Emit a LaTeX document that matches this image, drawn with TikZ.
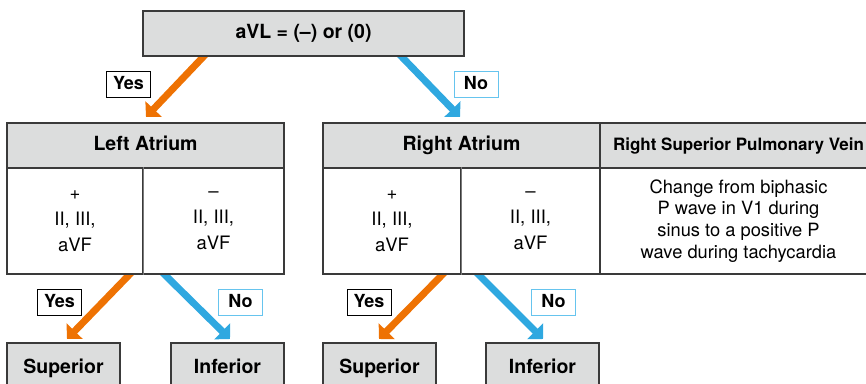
\documentclass[tikz,border=0pt]{standalone}
\usepackage{fontspec}
\setmainfont{TeX Gyre Heros}
\usetikzlibrary{arrows.meta}
\definecolor{hdrgray}{HTML}{DCDDDD}
\definecolor{edge}{HTML}{3A3A3A}
\definecolor{divgray}{HTML}{7A7A7A}
\definecolor{yesorange}{HTML}{EE7203}
\definecolor{noblue}{HTML}{2FA8E0}
\definecolor{nolabel}{HTML}{66C4EE}
\tikzset{
  box/.style={draw=edge, line width=1.1pt, inner sep=0pt, align=center},
  hdr/.style={box, fill=hdrgray, minimum height=45pt, text height=14pt, text depth=4pt, font=\bfseries\fontsize{19.5}{22}\selectfont},
  cell/.style={box, fill=white, minimum height=106pt, font=\fontsize{18.5}{26}\selectfont},
  outcome/.style={box, fill=hdrgray, minimum width=113pt, minimum height=50pt, text height=14pt, text depth=4pt, font=\bfseries\fontsize{19.5}{22}\selectfont},
  divider/.style={draw=divgray, line width=1.4pt},
  lbl/.style={fill=white, line width=1pt, minimum width=44pt, minimum height=26pt, inner sep=0pt, text height=13pt, text depth=3pt, font=\bfseries\fontsize{18}{20}\selectfont},
  yeslbl/.style={lbl, draw=black},
  nolbl/.style={lbl, draw=nolabel},
  flow/.style={line width=7pt, line join=miter, shorten <=-8pt, -{Triangle[length=11pt,width=22pt]}},
  yesarrow/.style={flow, draw=yesorange, fill=yesorange},
  noarrow/.style={flow, draw=noblue, fill=noblue},
}
\begin{document}
\begin{tikzpicture}[x=1pt,y=-1pt]
\useasboundingbox (0,0) rectangle (866,383);
\clip (0,0) rectangle (866,383);

% arrow end points
\coordinate (o1s) at (204,56);  \coordinate (o1e) at (146,117);
\coordinate (b1s) at (401,56);  \coordinate (b1e) at (460,117);
\coordinate (o2s) at (130,274); \coordinate (o2e) at (67,339);
\coordinate (b2s) at (164,274); \coordinate (b2e) at (230,339);
\coordinate (o3s) at (443,274); \coordinate (o3e) at (379,339);
\coordinate (b3s) at (478,274); \coordinate (b3e) at (543,339);

% arrows first, so the boxes cover their tails
\draw[yesarrow] (o1s) -- (o1e);
\draw[noarrow]  (b1s) -- (b1e);
\draw[yesarrow] (o2s) -- (o2e);
\draw[noarrow]  (b2s) -- (b2e);
\draw[yesarrow] (o3s) -- (o3e);
\draw[noarrow]  (b3s) -- (b3e);

% decision
\node[hdr, minimum width=321pt] (top) at (303.5,33.5) {aVL = (–) or (0)};

% left atrium table
\node[hdr, minimum width=277pt] (LA) at (145.5,145.5) {Left Atrium};
\node[cell, minimum width=136pt] (LAp) at (75,221) {+\\II, III,\\aVF};
\node[cell, minimum width=141pt] (LAm) at (213.5,221) {–\\II, III,\\aVF};
\draw[divider] (LAp.north east) -- (LAp.south east);

% right atrium table
\node[hdr, minimum width=277pt] (RA) at (461.5,145.5) {Right Atrium};
\node[hdr, minimum width=277pt, font=\bfseries\fontsize{17}{20}\selectfont] (RSPV) at (738.5,145.5) {Right Superior Pulmonary Vein};
\node[cell, minimum width=138pt] (RAp) at (392,221) {+\\II, III,\\aVF};
\node[cell, minimum width=139pt] (RAm) at (530.5,221) {–\\II, III,\\aVF};
\node[cell, minimum width=277pt, font=\fontsize{18.3}{21.7}\selectfont] (RSPVb) at (738.5,221)
  {Change from biphasic\\P wave in V1 during\\sinus to a positive P\\wave during tachycardia};
\draw[divider] (RAp.north east) -- (RAp.south east);

% outcomes
\node[outcome] (LSup) at (63.5,368) {Superior};
\node[outcome] (LInf) at (227.5,368) {Inferior};
\node[outcome] (RSup) at (379.5,368) {Superior};
\node[outcome] (RInf) at (542.5,368) {Inferior};

% answer labels
\node[yeslbl] (y1) at (128.5,84) {Yes};
\node[nolbl]  (n1) at (476,84) {No};
\node[yeslbl] (y2) at (59.5,302) {Yes};
\node[nolbl]  (n2) at (240.5,302) {No};
\node[yeslbl] (y3) at (369,302) {Yes};
\node[nolbl]  (n3) at (553.5,302) {No};
\end{tikzpicture}
\end{document}
